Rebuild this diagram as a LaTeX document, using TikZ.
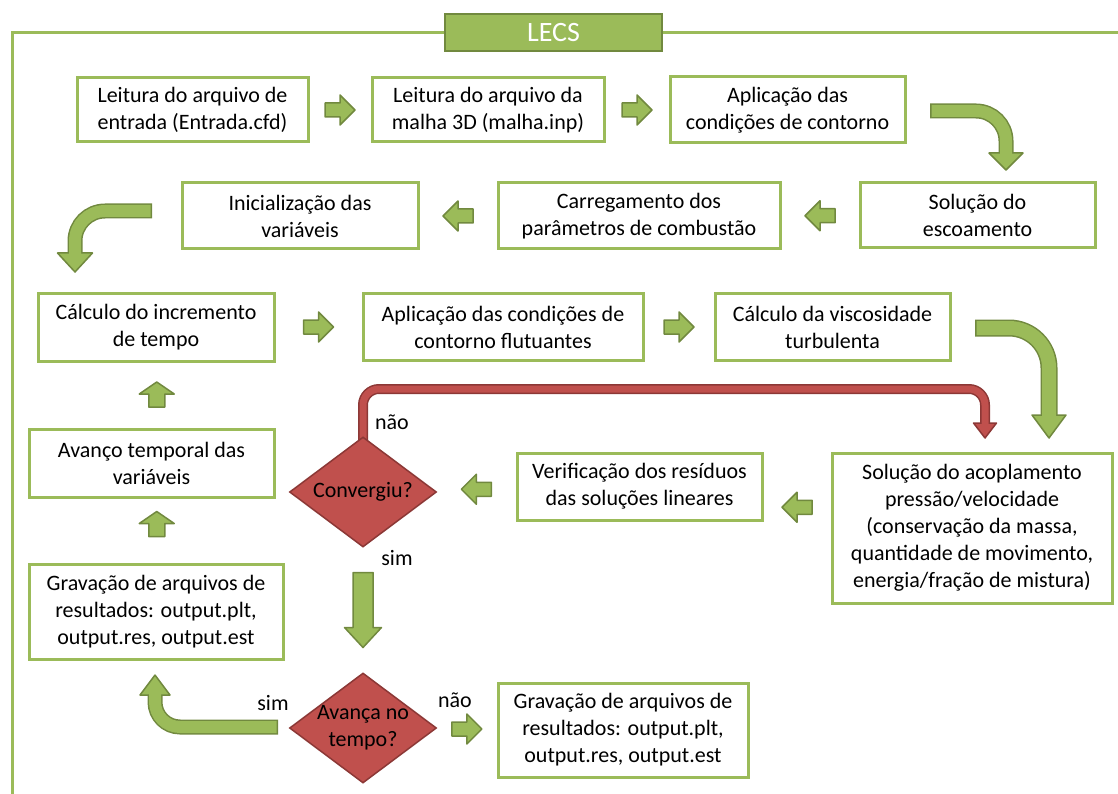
\documentclass[tikz,border=0pt]{standalone}
\usepackage{fontspec}
\setmainfont{Carlito}
\usetikzlibrary{shapes.geometric,calc,backgrounds}

\definecolor{olive}{HTML}{9BBB59}
\definecolor{olivedark}{HTML}{71893F}
\definecolor{brick}{HTML}{C0504D}
\definecolor{brickdark}{HTML}{8C3836}

\tikzset{
  stepbox/.style={draw=olive, line width=3pt, fill=white, align=center, inner sep=0pt},
  decision/.style={diamond, draw=brickdark, line width=1.5pt, fill=brick, inner sep=0pt,
    minimum width=147pt, minimum height=110pt},
  arrfill/.style={fill=olive, draw=olivedark, line width=1.5pt, line join=round},
  shaftout/.style={draw=olivedark, line width=#1+3pt, rounded corners=30pt},
  shaftin/.style={draw=olive, line width=#1, rounded corners=30pt, shorten <=1.5pt, shorten >=-2pt},
  redfill/.style={fill=brick, draw=brickdark, line width=1.5pt, line join=round},
  % small block arrow, pointing right
  harrow/.pic={\draw[arrfill] (-15,-7) -- (0,-7) -- (0,-15) -- (15,0) -- (0,15) -- (0,7) -- (-15,7) -- cycle;},
  % short wide block arrow
  varrow/.pic={\draw[arrfill] (-12,-8) -- (1,-8) -- (1,-17.5) -- (13,0) -- (1,17.5) -- (1,8) -- (-12,8) -- cycle;},
  % long block arrow
  bigarrow/.pic={\draw[arrfill] (-37.5,-10) -- (17.5,-10) -- (17.5,-18.5) -- (37.5,0) -- (17.5,18.5) -- (17.5,10) -- (-37.5,10) -- cycle;}
}

\begin{document}
\begin{tikzpicture}[x=1pt, y=-1pt, font=\fontsize{22}{27}\selectfont]
  \useasboundingbox (0,0) rectangle (1118,794);

  % outer frame and title
  \draw[olive, line width=3pt] (12,794) -- (12,33) -- (1118,33);
  \node[fill=olive, draw=olivedark, line width=2pt, minimum width=217pt, minimum height=37pt,
    text=white, font=\fontsize{28}{30}\selectfont] (lecs) at (553.5,32.5) {LECS};

  % first row
  \node[stepbox, minimum width=231pt, minimum height=64pt] (b1) at (192.5,110) {Leitura do arquivo de\\entrada (Entrada.cfd)};
  \node[stepbox, minimum width=232pt, minimum height=64pt] (b2) at (488,110) {Leitura do arquivo da\\malha 3D (malha.inp)};
  \node[stepbox, minimum width=235pt, minimum height=66pt] (b3) at (787.5,110) {Aplicação das\\condições de contorno};

  % second row
  \node[stepbox, minimum width=235pt, minimum height=65pt] (b4) at (977.5,215.5) {Solução do\\escoamento};
  \node[stepbox, minimum width=282pt, minimum height=66pt] (b5) at (639,216) {Carregamento dos\\parâmetros de combustão};
  \node[stepbox, minimum width=236pt, minimum height=66pt] (b6) at (300,216) {Inicialização das\\variáveis};

  % third row
  \node[stepbox, minimum width=236pt, minimum height=68pt] (b7) at (156,327) {Cálculo do incremento\\de tempo};
  \node[stepbox, minimum width=280pt, minimum height=67pt] (b8) at (503,327) {Aplicação das condições de\\contorno flutuantes};
  \node[stepbox, minimum width=235pt, minimum height=67pt] (b9) at (832.5,327) {Cálculo da viscosidade\\turbulenta};

  % inner loop
  \node[stepbox, minimum width=280pt, minimum height=150pt] (b10) at (972,528) {Solução do acoplamento\\pressão/velocidade\\(conservação da massa,\\quantidade de movimento,\\energia/fração de mistura)};
  \node[stepbox, minimum width=245pt, minimum height=67pt] (b11) at (639.5,486.5) {Verificação dos resíduos\\das soluções lineares};
  \node[decision] (d1) at (363,492) {};
  \node at (d1.center) {Convergiu?};

  % time loop
  \node[stepbox, minimum width=245pt, minimum height=68pt] (b12) at (151.5,463) {Avanço temporal das\\variáveis};
  \node[stepbox, minimum width=254pt, minimum height=95pt] (b13) at (156,611.5) {Gravação de arquivos de\\resultados: output.plt,\\output.res, output.est};
  \node[decision] (d2) at (363,728) {};
  \node[align=center] at (d2.center) {Avança no\\tempo?};
  \node[stepbox, minimum width=250pt, minimum height=94pt] (b14) at (623,730) {Gravação de arquivos de\\resultados: output.plt,\\output.res, output.est};

  % labels of the decisions
  \node (no1) at (392,422) {não};
  \node (yes1) at (397,558) {sim};
  \node (yes2) at (273,703) {sim};
  \node (no2) at (455,700) {não};

  % straight block arrows
  \pic at ($(b1.east)!0.5!(b2.west)$) {harrow};
  \pic at ($(b2.east)!0.5!(b3.west)$) {harrow};
  \pic[rotate=180] at ($(b4.west)!0.5!(b5.east)$) {harrow};
  \pic[rotate=180] at ($(b5.west)!0.5!(b6.east)$) {harrow};
  \pic at ($(b7.east)!0.5!(b8.west)$) {harrow};
  \pic at ($(b8.east)!0.5!(b9.west)$) {harrow};
  \pic[rotate=180] at ($(b10.west)!0.5!(b11.east)$) {harrow};
  \pic[rotate=180] at ($(b11.west)!0.5!(d1.east)$) {harrow};
  \pic at ($(d2.east)!0.5!(b14.west)$) {harrow};
  \pic[rotate=90] at ($(b12.north)!0.5!(b7.south)+(3,0)$) {varrow};
  \pic[rotate=90] at ($(b13.north)!0.5!(b12.south)+(3,-6)$) {varrow};
  \pic[rotate=-90] at ($(d1.south)!0.5!(d2.north)$) {bigarrow};

  % bent arrow b3 -> b4
  \coordinate (c1s) at (930,111);
  \coordinate (c1h) at (1006,153);
  \coordinate (c1t) at (1006,170);
  \draw[shaftout=12pt] (c1s) -| (c1h);
  \draw[arrfill] ($(c1h)+(-17,0)$) -- ($(c1h)+(17,0)$) -- (c1t) -- cycle;
  \draw[shaftin=12pt] (c1s) -| (c1h);

  % bent arrow b6 -> b7
  \coordinate (c2s) at (152,211);
  \coordinate (c2h) at (75,253);
  \coordinate (c2t) at (75,272);
  \draw[shaftout=12pt] (c2s) -| (c2h);
  \draw[arrfill] ($(c2h)+(-17.5,0)$) -- ($(c2h)+(17.5,0)$) -- (c2t) -- cycle;
  \draw[shaftin=12pt] (c2s) -| (c2h);

  % bent arrow b9 -> b10
  \coordinate (c3s) at (975,328);
  \coordinate (c3h) at (1049,415);
  \coordinate (c3t) at (1049,438);
  \draw[shaftout=14pt, rounded corners=40pt] (c3s) -| (c3h);
  \draw[arrfill] ($(c3h)+(-17,0)$) -- ($(c3h)+(17,0)$) -- (c3t) -- cycle;
  \draw[shaftin=14pt, rounded corners=40pt] (c3s) -| (c3h);

  % bent arrow d2 -> b13 (sim)
  \coordinate (c4s) at (278,727);
  \coordinate (c4h) at (155,695);
  \coordinate (c4t) at (155,675);
  \draw[shaftout=12pt, rounded corners=25pt] (c4s) -| (c4h);
  \draw[arrfill] ($(c4h)+(-15,0)$) -- ($(c4h)+(15,0)$) -- (c4t) -- cycle;
  \draw[shaftin=12pt, rounded corners=25pt] (c4s) -| (c4h);

  % red arrow d1 -> b10 (não)
  \begin{scope}[on background layer]
    \coordinate (rtop) at (985,389);
    \coordinate (rh) at (985,423);
    \coordinate (rt) at (985,438);
    \draw[brickdark, line width=10pt, rounded corners=16pt] ($(d1.north)+(0,8)$) |- (rtop) -- (rh);
    \draw[redfill] ($(rh)+(-11.5,0)$) -- ($(rh)+(11.5,0)$) -- (rt) -- cycle;
    \draw[brick, line width=7pt, rounded corners=16pt, shorten >=-2pt] ($(d1.north)+(0,8)$) |- (rtop) -- (rh);
  \end{scope}
\end{tikzpicture}
\end{document}
